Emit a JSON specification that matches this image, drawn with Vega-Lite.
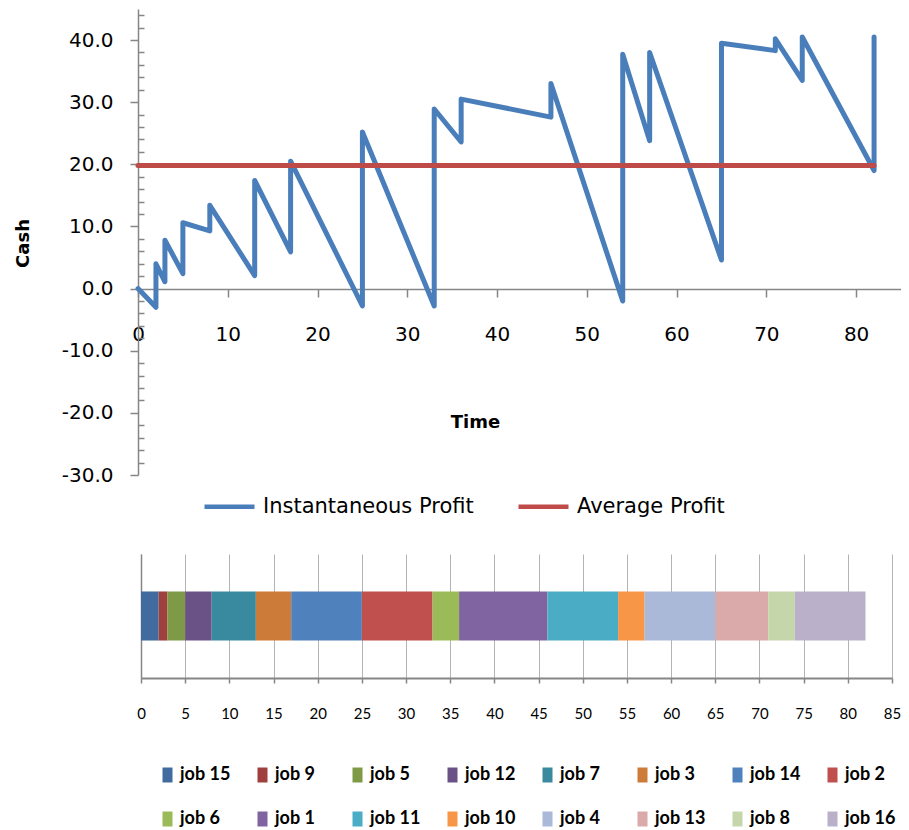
{
  "$schema": "https://vega.github.io/schema/vega-lite/v6.json",
  "padding": {"left": 14, "top": 5, "right": 0, "bottom": 0},
  "spacing": 37,
  "resolve": {"scale": {"color": "independent"}, "legend": {"color": "independent"}},
  "config": {
    "view": {"stroke": null},
    "axis": {"labelColor": "#000000", "titleColor": "#000000", "domainColor": "#868686", "tickColor": "#868686", "grid": false}
  },
  "datasets": {
    "profit": [
      {"i": 0, "t": 0, "v": 0, "series": "Instantaneous Profit"},
      {"i": 1, "t": 2, "v": -3.0, "series": "Instantaneous Profit"},
      {"i": 2, "t": 2, "v": 4.0, "series": "Instantaneous Profit"},
      {"i": 3, "t": 3, "v": 1.1, "series": "Instantaneous Profit"},
      {"i": 4, "t": 3, "v": 7.8, "series": "Instantaneous Profit"},
      {"i": 5, "t": 5, "v": 2.4, "series": "Instantaneous Profit"},
      {"i": 6, "t": 5, "v": 10.6, "series": "Instantaneous Profit"},
      {"i": 7, "t": 8, "v": 9.3, "series": "Instantaneous Profit"},
      {"i": 8, "t": 8, "v": 13.4, "series": "Instantaneous Profit"},
      {"i": 9, "t": 13, "v": 2.1, "series": "Instantaneous Profit"},
      {"i": 10, "t": 13, "v": 17.4, "series": "Instantaneous Profit"},
      {"i": 11, "t": 17, "v": 5.9, "series": "Instantaneous Profit"},
      {"i": 12, "t": 17, "v": 20.5, "series": "Instantaneous Profit"},
      {"i": 13, "t": 25, "v": -2.8, "series": "Instantaneous Profit"},
      {"i": 14, "t": 25, "v": 25.2, "series": "Instantaneous Profit"},
      {"i": 15, "t": 33, "v": -2.8, "series": "Instantaneous Profit"},
      {"i": 16, "t": 33, "v": 28.9, "series": "Instantaneous Profit"},
      {"i": 17, "t": 36, "v": 23.6, "series": "Instantaneous Profit"},
      {"i": 18, "t": 36, "v": 30.5, "series": "Instantaneous Profit"},
      {"i": 19, "t": 46, "v": 27.6, "series": "Instantaneous Profit"},
      {"i": 20, "t": 46, "v": 33.0, "series": "Instantaneous Profit"},
      {"i": 21, "t": 54, "v": -2.0, "series": "Instantaneous Profit"},
      {"i": 22, "t": 54, "v": 37.7, "series": "Instantaneous Profit"},
      {"i": 23, "t": 57, "v": 23.8, "series": "Instantaneous Profit"},
      {"i": 24, "t": 57, "v": 38.0, "series": "Instantaneous Profit"},
      {"i": 25, "t": 65, "v": 4.6, "series": "Instantaneous Profit"},
      {"i": 26, "t": 65, "v": 39.5, "series": "Instantaneous Profit"},
      {"i": 27, "t": 71, "v": 38.3, "series": "Instantaneous Profit"},
      {"i": 28, "t": 71, "v": 40.2, "series": "Instantaneous Profit"},
      {"i": 29, "t": 74, "v": 33.5, "series": "Instantaneous Profit"},
      {"i": 30, "t": 74, "v": 40.5, "series": "Instantaneous Profit"},
      {"i": 31, "t": 82, "v": 19.0, "series": "Instantaneous Profit"},
      {"i": 32, "t": 82, "v": 40.5, "series": "Instantaneous Profit"},
      {"i": 0, "t": 0, "v": 19.8, "series": "Average Profit"},
      {"i": 1, "t": 82, "v": 19.8, "series": "Average Profit"}
    ],
    "jobs": [
      {"job": "job 15", "start": 0, "end": 2, "lane": "jobs"},
      {"job": "job 9", "start": 2, "end": 3, "lane": "jobs"},
      {"job": "job 5", "start": 3, "end": 5, "lane": "jobs"},
      {"job": "job 12", "start": 5, "end": 8, "lane": "jobs"},
      {"job": "job 7", "start": 8, "end": 13, "lane": "jobs"},
      {"job": "job 3", "start": 13, "end": 17, "lane": "jobs"},
      {"job": "job 14", "start": 17, "end": 25, "lane": "jobs"},
      {"job": "job 2", "start": 25, "end": 33, "lane": "jobs"},
      {"job": "job 6", "start": 33, "end": 36, "lane": "jobs"},
      {"job": "job 1", "start": 36, "end": 46, "lane": "jobs"},
      {"job": "job 11", "start": 46, "end": 54, "lane": "jobs"},
      {"job": "job 10", "start": 54, "end": 57, "lane": "jobs"},
      {"job": "job 4", "start": 57, "end": 65, "lane": "jobs"},
      {"job": "job 13", "start": 65, "end": 71, "lane": "jobs"},
      {"job": "job 8", "start": 71, "end": 74, "lane": "jobs"},
      {"job": "job 16", "start": 74, "end": 82, "lane": "jobs"}
    ]
  },
  "vconcat": [
    {
      "width": 763,
      "height": 466,
      "data": {"name": "profit"},
      "mark": {"type": "line", "strokeWidth": 5, "strokeJoin": "round", "strokeCap": "round"},
      "encoding": {
        "x": {
          "field": "t", "type": "quantitative",
          "scale": {"domain": [0, 85], "nice": false},
          "axis": {
            "title": "Time", "values": [0, 10, 20, 30, 40, 50, 60, 70, 80],
            "offset": -186, "tickSize": 8, "tickWidth": 1.5, "domainWidth": 1.5,
            "labelPadding": 27, "labelFont": "DejaVu Sans", "labelFontSize": 20,
            "labelFlush": false, "labelOverlap": false,
            "titleFont": "DejaVu Sans", "titleFontSize": 18, "titleFontWeight": "bold",
            "titleX": 337, "titleY": 133, "titleBaseline": "middle", "titleAlign": "center"
          }
        },
        "y": {
          "field": "v", "type": "quantitative",
          "scale": {"domain": [-30, 45], "nice": false, "zero": false},
          "axis": {
            "title": "Cash",
            "values": [-30, -28, -26, -24, -22, -20, -18, -16, -14, -12, -10, -8, -6, -4, -2, 0, 2, 4, 6, 8, 10, 12, 14, 16, 18, 20, 22, 24, 26, 28, 30, 32, 34, 36, 38, 40, 42, 44],
            "labelExpr": "datum.value % 10 === 0 ? replace(format(datum.value, '.1f'), '\u2212', '-') : ''",
            "tickSize": {"condition": {"test": "datum.value % 10 === 0", "value": 8}, "value": -6},
            "tickWidth": 1.5, "domainWidth": 1.5,
            "labelPadding": 17, "labelFont": "DejaVu Sans", "labelFontSize": 20, "labelOverlap": false,
            "titleFont": "DejaVu Sans", "titleFontSize": 18, "titleFontWeight": "bold",
            "titleX": -115, "titleY": 234, "titleBaseline": "middle", "titleAlign": "center", "titleAngle": -90
          }
        },
        "order": {"field": "i", "type": "quantitative"},
        "color": {
          "field": "series", "type": "nominal",
          "scale": {"domain": ["Instantaneous Profit", "Average Profit"], "range": ["#4A7EBB", "#BE4B48"]},
          "legend": {
            "orient": "none", "legendX": 64, "legendY": 470, "direction": "horizontal", "title": null,
            "symbolType": "stroke", "symbolSize": 2500, "symbolStrokeWidth": 4.5,
            "labelFont": "DejaVu Sans", "labelFontSize": 21, "labelColor": "#000000",
            "labelOffset": 6, "columnPadding": 35, "labelLimit": 400
          }
        }
      }
    },
    {
      "width": 754,
      "height": 124,
      "data": {"name": "jobs"},
      "mark": {"type": "bar"},
      "encoding": {
        "x": {
          "field": "start", "type": "quantitative",
          "scale": {"domain": [0, 85], "nice": false, "range": [3, 754]},
          "axis": {
            "title": null, "values": [0, 5, 10, 15, 20, 25, 30, 35, 40, 45, 50, 55, 60, 65, 70, 75, 80, 85],
            "grid": true, "gridColor": "#B3B3B3", "gridWidth": 1,
            "tickSize": 5, "domainWidth": 2, "tickWidth": 1.5,
            "labelPadding": 23, "labelFont": "Lato", "labelFontSize": 15,
            "labelFlush": false, "labelOverlap": false
          }
        },
        "x2": {"field": "end"},
        "y": {
          "field": "lane", "type": "nominal",
          "scale": {"padding": 0.433},
          "axis": {"title": null, "labels": false, "ticks": false, "offset": -3, "domainWidth": 1.5}
        },
        "color": {
          "field": "job", "type": "nominal",
          "scale": {
            "domain": ["job 15", "job 9", "job 5", "job 12", "job 7", "job 3", "job 14", "job 2", "job 6", "job 1", "job 11", "job 10", "job 4", "job 13", "job 8", "job 16"],
            "range": ["#416B9E", "#A0403E", "#7E9A47", "#6A5287", "#3A8A9F", "#CD7B38", "#4F81BD", "#C0504D", "#9BBB59", "#8064A2", "#4BACC6", "#F79646", "#AAB9D7", "#D9AAA9", "#C5D6AB", "#BAB0CA"]
          },
          "legend": {
            "orient": "none", "legendX": 20.5, "legendY": 212, "title": null, "direction": "horizontal",
            "columns": 8, "gridAlign": "all", "columnPadding": 23, "rowPadding": 26,
            "symbolType": "M-0.667,-1H0.667V1H-0.667Z", "symbolSize": 225, "symbolStrokeWidth": 0,
            "labelFont": "Lato", "labelFontSize": 18, "labelFontWeight": "bold",
            "labelColor": "#000000", "labelOffset": 3.5, "labelLimit": 200
          }
        }
      }
    }
  ]
}
